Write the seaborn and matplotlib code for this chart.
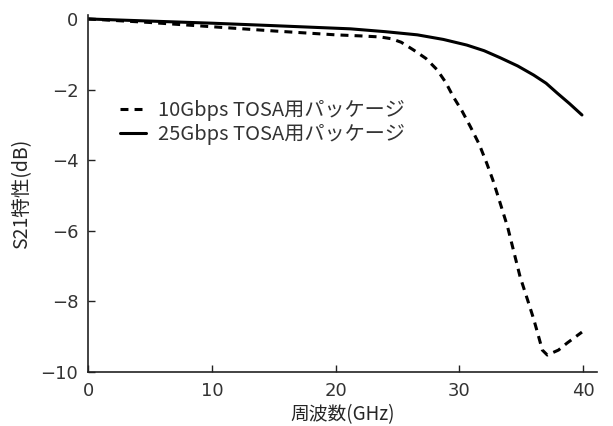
import numpy as np
import pandas as pd
import matplotlib
matplotlib.use("Agg")
import matplotlib.pyplot as plt
import seaborn as sns

# 10Gbps TOSA package (dashed)
freq_10g = [0, 2, 5, 10, 15, 20, 22, 23.6, 24.5, 25.3, 26.3, 27.3, 28.2, 28.9,
            29.5, 30.2, 30.9, 31.6, 32.2, 32.7, 33.1, 33.9, 34.4, 34.9, 35.5,
            36.0, 36.4, 36.7, 37.1, 38.0, 38.7, 39.9]
s21_10g = [0, -0.04, -0.1, -0.22, -0.34, -0.45, -0.48, -0.51, -0.56, -0.66,
           -0.88, -1.12, -1.44, -1.8, -2.2, -2.6, -3.06, -3.55, -4.08, -4.56,
           -5.0, -5.9, -6.6, -7.3, -7.95, -8.5, -9.0, -9.38, -9.52, -9.38,
           -9.18, -8.87]

# 25Gbps TOSA package (solid)
freq_25g = [0, 5, 10, 15, 21.2, 24.0, 26.6, 28.7, 30.6, 32.0, 33.3, 34.7,
            36.0, 37.0, 37.9, 38.9, 39.9]
s21_25g = [0, -0.06, -0.12, -0.19, -0.28, -0.36, -0.45, -0.58, -0.74, -0.9,
           -1.1, -1.33, -1.59, -1.82, -2.1, -2.4, -2.72]

label_10g = "10Gbps TOSA用パッケージ"
label_25g = "25Gbps TOSA用パッケージ"
xticks = [0, 10, 20, 30, 40]
yticks = [0, -2, -4, -6, -8, -10]
ytick_labels = ["0", "−2", "−4", "−6", "−8", "−10"]

df = pd.concat([
    pd.DataFrame({"freq": freq_10g, "s21": s21_10g, "series": label_10g}),
    pd.DataFrame({"freq": freq_25g, "s21": s21_25g, "series": label_25g}),
])

sns.set_style("ticks")
plt.rcParams["font.family"] = ["Noto Sans CJK JP", "DejaVu Sans"]
plt.rcParams["text.color"] = "#333333"
plt.rcParams["xtick.color"] = "#222222"
plt.rcParams["ytick.color"] = "#222222"
plt.rcParams["xtick.labelcolor"] = "#333333"
plt.rcParams["ytick.labelcolor"] = "#333333"

fig = plt.figure(figsize=(6.13, 4.26), dpi=100)
ax = fig.add_axes([0.1436, 0.1268, 0.830, 0.8370])

sns.lineplot(
    data=df, x="freq", y="s21", style="series",
    dashes={label_10g: (2.6, 2.0), label_25g: ""},
    style_order=[label_10g, label_25g],
    color="black", linewidth=2.2, sort=False, estimator=None, ax=ax,
)

ax.set_xlim(0, 41.1)
ax.set_ylim(-10, 0.1)
ax.set_xticks(xticks)
ax.set_yticks(yticks)
ax.set_yticklabels(ytick_labels)
ax.tick_params(direction="in", length=5, width=1, labelsize=13, pad=7)
for lab in ax.get_xticklabels() + ax.get_yticklabels():
    lab.set_fontfamily("DejaVu Sans")
for s in ["top", "right"]:
    ax.spines[s].set_visible(False)
for s in ["left", "bottom"]:
    ax.spines[s].set_linewidth(1.2)
    ax.spines[s].set_color("#222222")

ax.set_xlabel("周波数(GHz)", fontsize=13.5, labelpad=3)
ax.set_ylabel("S21特性(dB)", fontsize=14, labelpad=6)

ax.legend(
    loc="upper left", bbox_to_anchor=(0.054, 0.775), frameon=False,
    fontsize=14.5, handlelength=1.3, handletextpad=0.6, labelspacing=0.15,
    borderpad=0.2, borderaxespad=0,
)

fig.savefig("out.png", dpi=100)
